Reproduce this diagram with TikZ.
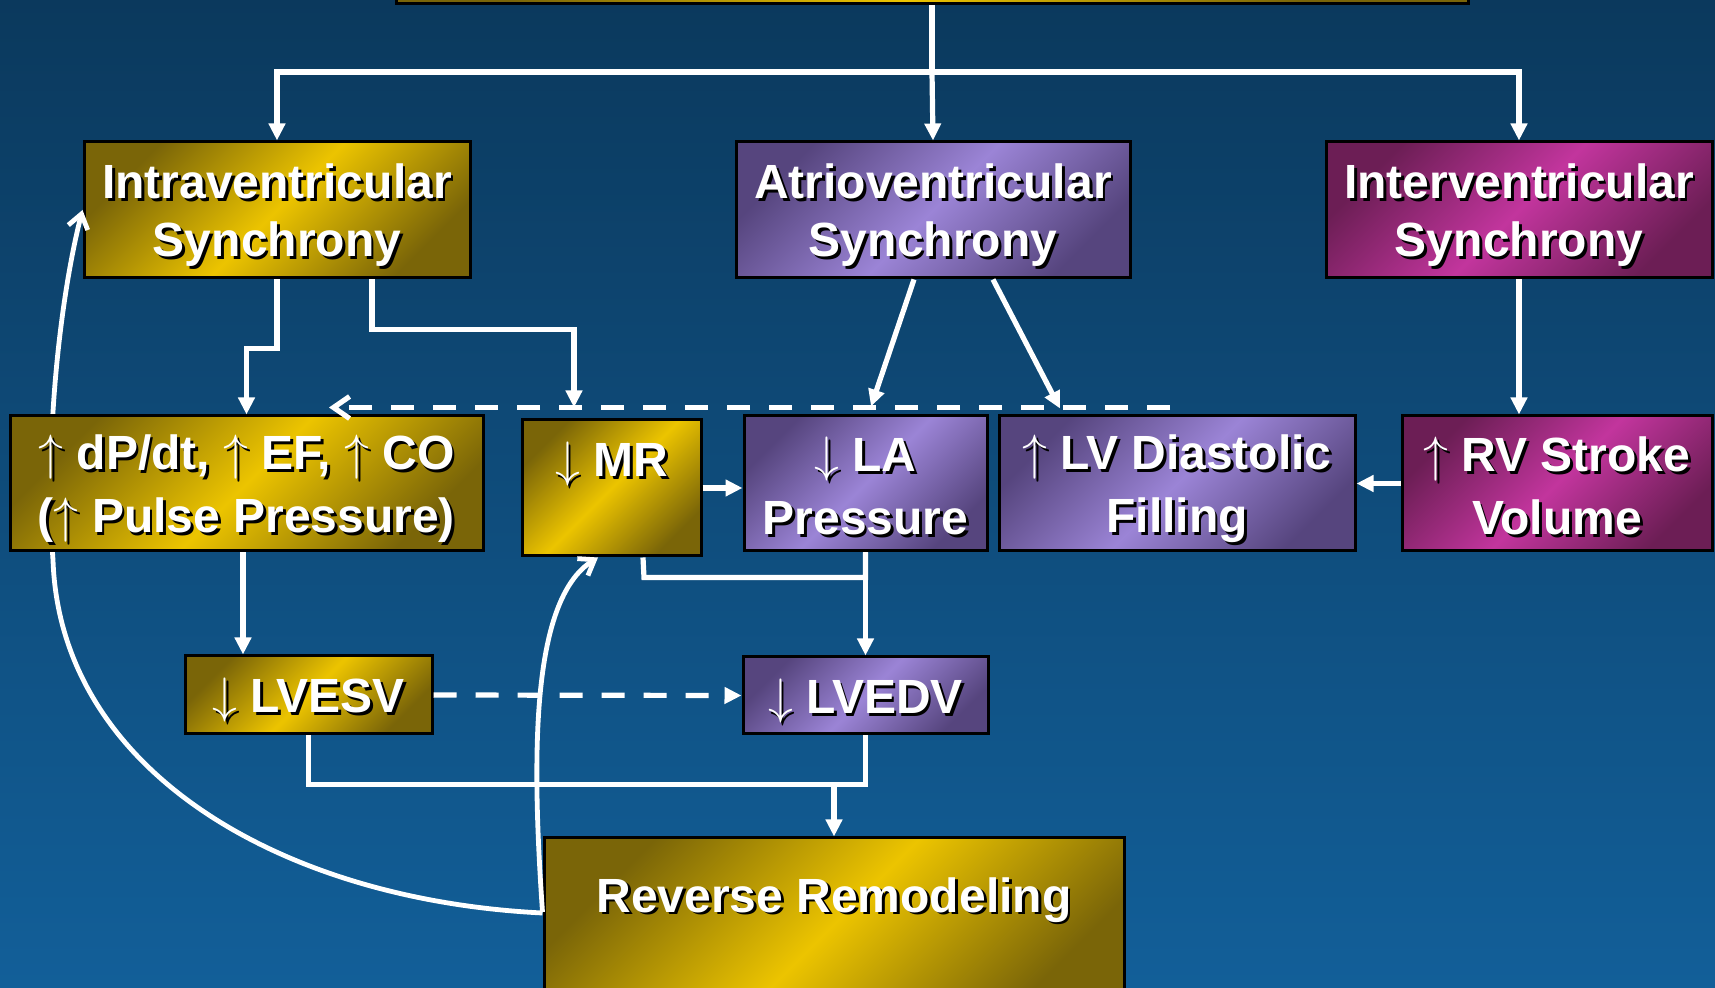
\documentclass[tikz,border=0pt]{standalone}
\usepackage{fontspec}
\setmainfont{Liberation Sans}
\usetikzlibrary{arrows.meta,calc}
\definecolor{bgtop}{RGB}{11,57,93}
\definecolor{bgbot}{RGB}{18,95,153}
\definecolor{golddk}{RGB}{122,101,8}
\definecolor{goldlt}{RGB}{236,196,0}
\definecolor{purpdk}{RGB}{86,69,126}
\definecolor{purplt}{RGB}{155,132,214}
\definecolor{magdk}{RGB}{108,30,85}
\definecolor{maglt}{RGB}{194,53,157}
\newcommand\sht[1]{\rule[-4.5pt]{0pt}{28.5pt}\rlap{\kern1.4pt\raisebox{-1.4pt}{\textcolor{black}{#1}}}#1}
\newcommand\UPa{$\uparrow$}
\newcommand\DNa{$\downarrow$}
\tikzset{
  box/.style={draw=black, line width=1.5pt, inner sep=0pt, align=center, text=white,
    font=\bfseries\fontsize{24}{29}\selectfont},
  wh/.style 2 args={minimum width=#1*0.5pt, minimum height=#2*0.5pt},
  goldbox/.style={box, top color=golddk, bottom color=golddk, middle color=goldlt, shading angle=45},
  purpbox/.style={box, top color=purpdk, bottom color=purpdk, middle color=purplt, shading angle=45},
  magbox/.style={box, top color=magdk, bottom color=magdk, middle color=maglt, shading angle=45},
  line/.style={draw=white, line width=2.6pt},
  arr/.style={line, -{Triangle[length=8.5pt,width=8pt]}},
  darr/.style={line, dash pattern=on 11.5pt off 9.5pt, -{Triangle[length=8.5pt,width=8pt]}},
  dbarb/.style={line, dash pattern=on 11.5pt off 9.5pt, -{Straight Barb[length=8pt,width=11pt]}},
  carr/.style={draw=white, line width=2.4pt, -{Straight Barb[length=7pt,width=10pt]}},
}
\begin{document}
\begin{tikzpicture}[x=0.5pt,y=-0.5pt]
\useasboundingbox (0,0) rectangle (1715,988);
\clip (0,0) rectangle (1715,988);
\shade[top color=bgtop,bottom color=bgbot] (0,0) rectangle (1715,988);

\node[goldbox, wh={1072}{60}] (top) at (932,-26) {};
\node[goldbox, wh={386}{136}] (intra) at (277,210) {\sht{Intraventricular}\\\sht{Synchrony}};
\node[purpbox, wh={394}{136}] (atrio) at (933,210) {\sht{Atrioventricular}\\\sht{Synchrony}};
\node[magbox, wh={386}{136}] (inter) at (1519,210) {\sht{Interventricular}\\\sht{Synchrony}};
\node[goldbox, wh={179}{136}] (mr) at (611.5,488) {\sht{\DNa{} MR}\\\sht{}};
\node[purpbox, wh={243}{135}] (la) at (865.5,483.5) {\sht{\DNa{} LA}\\\sht{Pressure}};
\node[purpbox, wh={356}{135}] (lv) at (1177,483.5) {\sht{\UPa{} LV Diastolic}\\\sht{Filling}};
\node[magbox, wh={310}{135}] (rv) at (1557,483.5) {\sht{\UPa{} RV Stroke}\\\sht{Volume}};
\node[goldbox, wh={247}{78}] (lvesv) at (308.5,695) {\sht{\DNa{} LVESV}};
\node[purpbox, wh={245}{77}] (lvedv) at (865.5,695.5) {\sht{\DNa{} LVEDV}};
\node[goldbox, wh={580}{172}] (rr) at (834,924) {\sht{Reverse Remodeling}\\\sht{}};
\coordinate (dpc) at (246.5,483.5);

% curves (behind the dP box)
\coordinate (rrc) at ([yshift=5.5pt]rr.west);
\draw[carr] (rrc) .. controls (280,900) and (60,770) .. (53,560)
   .. controls (44,430) and (62,290) .. (intra.west);
\coordinate (rrc2) at ([yshift=6pt]rr.west);
\draw[carr] (rrc2) .. controls (532,760) and (530,600) .. ([xshift=-6.75pt]mr.south);

\node[goldbox, wh={473}{135}] (dp) at (dpc) {\sht{\UPa{} dP/dt, \UPa{} EF, \UPa{} CO}\\\sht{(\UPa{} Pulse Pressure)}};

% connectors
\coordinate (j1) at (932,72);
\draw[line] (top.south) -- (j1);
\draw[arr] (j1) -- (atrio.north);
\draw[arr] (j1) -| (intra.north);
\draw[arr] (j1) -| (inter.north);

\draw[arr] (intra.south) -- ++(0,69) -| (dp.north);
\draw[arr] ([xshift=47.5pt]intra.south) -- ++(0,50) -| ([xshift=-18.75pt,yshift=5.5pt]mr.north);
\draw[arr] ([xshift=-9.5pt]atrio.south) -- ([xshift=2.75pt,yshift=4pt]la.north);
\draw[arr] ([xshift=30pt]atrio.south) -- ([xshift=-58.5pt,yshift=3pt]lv.north);
\draw[arr] (inter.south) -- (inter.south |- rv.north);
\draw[arr] (rv.west) -- (lv.east);
\draw[arr] (mr.east) -- (mr.east -| la.west);

\draw[dbarb] ([xshift=-3.5pt,yshift=3.5pt]lv.north) -- ([xshift=41.25pt,yshift=3.5pt]dp.north);

\coordinate (mro) at ([xshift=15.75pt]mr.south);
\draw[line] (mro) -- ++(1,20) -| (la.south);
\draw[arr] (la.south) -- (lvedv.north);

\coordinate (dpo) at ([xshift=-1.75pt]dp.south);
\draw[arr] (dpo) -- (dpo |- lvesv.north);
\draw[darr] (lvesv.east) -- (lvedv.west);

\coordinate (j3) at ($(rr.north)+(0,-52)$);
\draw[line] (lvesv.south) |- (lvedv.south |- j3) -- (lvedv.south);
\draw[arr] (j3) -- (rr.north);
\end{tikzpicture}
\end{document}
